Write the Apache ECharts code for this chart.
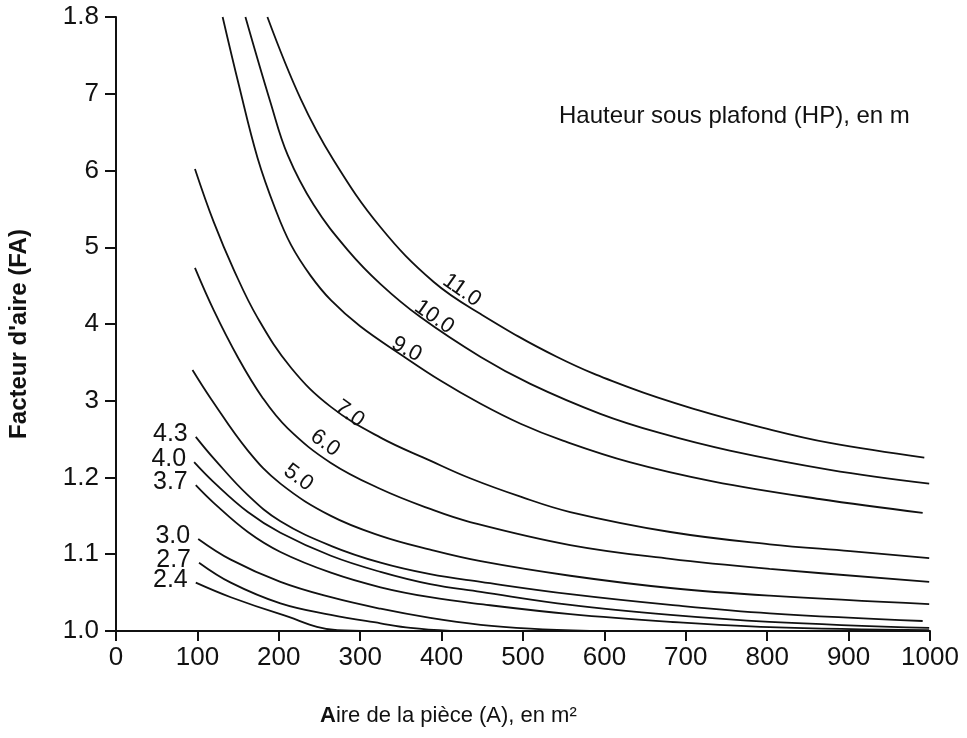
<!DOCTYPE html>
<html>
<head>
<meta charset="utf-8">
<script src="https://cdn.jsdelivr.net/npm/echarts@6/dist/echarts.min.js"></script>
<style>
html,body{margin:0;padding:0;background:#fff;}
#chart{width:967px;height:738px;}
</style>
</head>
<body>
<div id="chart"></div>
<script>
// ---- Data (A in m², FA) ----
const curveNames = ['11.0','10.0','9.0','7.0','6.0','5.0','4.3','4.0','3.7','3.0','2.7','2.4'];

const A_110  = [186, 227, 267, 325, 390, 448, 542, 631, 714, 794, 877, 993];
const FA_110 = [1.800, 1.693, 1.614, 1.526, 1.455, 1.413, 1.357, 1.317, 1.288, 1.265, 1.245, 1.226];

const A_100  = [159, 190, 211, 243, 285, 325, 374, 448, 509, 595, 668, 754, 877, 999];
const FA_100 = [1.800, 1.688, 1.620, 1.555, 1.496, 1.452, 1.409, 1.357, 1.322, 1.283, 1.258, 1.235, 1.210, 1.192];

const A_90  = [131, 151, 174, 196, 215, 239, 264, 300, 353, 399, 448, 497, 549, 631, 733, 864, 991];
const FA_90 = [1.800, 1.711, 1.616, 1.549, 1.503, 1.463, 1.431, 1.397, 1.358, 1.326, 1.296, 1.270, 1.248, 1.220, 1.195, 1.172, 1.154];

const A_70  = [97, 120, 145, 174, 215, 264, 325, 386, 435, 497, 558, 681, 803, 902, 999];
const FA_70 = [1.602, 1.533, 1.470, 1.408, 1.343, 1.292, 1.252, 1.222, 1.199, 1.175, 1.155, 1.129, 1.113, 1.104, 1.095];

const A_60  = [97, 120, 150, 180, 211, 264, 325, 386, 435, 558, 681, 803, 999];
const FA_60 = [1.473, 1.418, 1.356, 1.304, 1.264, 1.219, 1.185, 1.159, 1.142, 1.112, 1.094, 1.081, 1.064];

const A_50  = [94, 117, 162, 202, 264, 325, 386, 448, 558, 681, 803, 999];
const FA_50 = [1.340, 1.302, 1.235, 1.192, 1.150, 1.124, 1.106, 1.091, 1.072, 1.056, 1.046, 1.035];

const A_43  = [98, 120, 162, 202, 264, 325, 386, 448, 558, 681, 803, 991];
const FA_43 = [1.253, 1.225, 1.177, 1.143, 1.111, 1.089, 1.074, 1.064, 1.048, 1.034, 1.023, 1.013];

const A_40  = [96, 120, 162, 202, 264, 325, 386, 448, 558, 681, 803, 999];
const FA_40 = [1.220, 1.194, 1.155, 1.128, 1.098, 1.077, 1.061, 1.051, 1.034, 1.021, 1.012, 1.004];

const A_37  = [98, 120, 162, 202, 264, 325, 386, 448, 558, 681, 803, 999];
const FA_37 = [1.190, 1.167, 1.129, 1.103, 1.076, 1.057, 1.044, 1.035, 1.022, 1.012, 1.005, 1.001];

const A_30  = [101, 141, 202, 264, 325, 386, 448, 509, 582];
const FA_30 = [1.120, 1.093, 1.064, 1.044, 1.029, 1.017, 1.008, 1.003, 1.000];

const A_27  = [102, 141, 202, 264, 325, 362, 411];
const FA_27 = [1.089, 1.063, 1.036, 1.021, 1.010, 1.004, 1.000];

const A_24  = [98, 141, 202, 272, 313];
const FA_24 = [1.063, 1.044, 1.022, 1.001, 1.000];

const yTickLabels = ['1.0','1.1','1.2','3','4','5','6','7','1.8'];
const xTickLabels = ['0','100','200','300','400','500','600','700','800','900','1000'];

const titleText = 'Hauteur sous plafond (HP), en m';
const xTitleBold = 'A';
const xTitleRest = 'ire de la pièce (A), en m²';
const yTitle = "Facteur d'aire (FA)";

// ---- Build ----
const curveA  = [A_110, A_100, A_90, A_70, A_60, A_50, A_43, A_40, A_37, A_30, A_27, A_24];
const curveFA = [FA_110, FA_100, FA_90, FA_70, FA_60, FA_50, FA_43, FA_40, FA_37, FA_30, FA_27, FA_24];

// label styling / placement (centre of rotated labels, in axis units; angle in degrees, clockwise)
const alongLabelAt  = { '11.0': [425, 1.444], '10.0': [391, 1.409], '9.0': [357, 1.367],
                        '7.0': [287, 1.283], '6.0': [257, 1.245], '5.0': [224, 1.200] };
const alongLabelCw  = { '11.0': 35, '10.0': 35, '9.0': 28, '7.0': 36, '6.0': 36, '5.0': 36 };

const FONT = "'Liberation Sans', Arial, Helvetica, sans-serif";
const INK = '#111';

const series = curveNames.map((nm, i) => ({
  type: 'line', name: nm,
  data: curveA[i].map((a, k) => [a, curveFA[i][k]]),
  smooth: 0.4, showSymbol: false, symbol: 'none', silent: true,
  lineStyle: { color: INK, width: 1.8 }, z: 3
}));

const chart = echarts.init(document.getElementById('chart'), null, { renderer: 'canvas' });
chart.setOption({
  backgroundColor: '#fff',
  animation: false,
  title: [
    { text: titleText, left: 559, top: 104, padding: 0,
      textStyle: { color: INK, fontFamily: FONT, fontSize: 24, fontWeight: 'normal' } },
    { text: '{b|' + xTitleBold + '}{r|' + xTitleRest + '}', left: 320, top: 705, padding: 0,
      textStyle: { rich: {
        b: { color: INK, fontFamily: FONT, fontSize: 22, fontWeight: 'bold' },
        r: { color: INK, fontFamily: FONT, fontSize: 22, fontWeight: 'normal' }
      } } }
  ],
  grid: { left: 116, right: 37, top: 17, bottom: 107, containLabel: false },
  xAxis: {
    type: 'value', min: 0, max: 1000, interval: 100,
    axisLine: { show: true, lineStyle: { color: INK, width: 2 } },
    axisTick: { show: true, inside: false, length: 10, lineStyle: { color: INK, width: 2 } },
    axisLabel: { color: INK, fontFamily: FONT, fontSize: 26, margin: 14,
      formatter: (v) => xTickLabels[Math.round(v / 100)] },
    splitLine: { show: false }
  },
  yAxis: {
    type: 'value', min: 1.0, max: 1.8, interval: 0.1,
    axisLine: { show: true, lineStyle: { color: INK, width: 2 } },
    axisTick: { show: true, inside: false, length: 11, lineStyle: { color: INK, width: 2 } },
    axisLabel: { color: INK, fontFamily: FONT, fontSize: 26, margin: 17,
      formatter: (v) => yTickLabels[Math.round((v - 1) * 10)] },
    splitLine: { show: false }
  },
  series: series
});

// curve labels as text placed through the chart's own coordinate conversion
const graphics = [
  { type: 'text', x: 19, y: 334, rotation: Math.PI / 2, z: 10,
    style: { text: yTitle, fill: INK, font: 'bold 24px ' + FONT, textAlign: 'center', textVerticalAlign: 'middle' } }
];
curveNames.forEach((nm, i) => {
  if (alongLabelAt[nm]) {
    const p = chart.convertToPixel({ gridIndex: 0 }, alongLabelAt[nm]);
    graphics.push({ type: 'text', x: p[0], y: p[1], rotation: -alongLabelCw[nm] * Math.PI / 180, z: 10,
      style: { text: nm, fill: INK, font: '22px ' + FONT, textAlign: 'center', textVerticalAlign: 'middle' } });
  } else {
    const p = chart.convertToPixel({ gridIndex: 0 }, [curveA[i][0], curveFA[i][0]]);
    graphics.push({ type: 'text', x: p[0] - 8, y: p[1] - 3, z: 10,
      style: { text: nm, fill: INK, font: '25px ' + FONT, textAlign: 'right', textVerticalAlign: 'middle' } });
  }
});
chart.setOption({ graphic: graphics });
</script>
</body>
</html>
